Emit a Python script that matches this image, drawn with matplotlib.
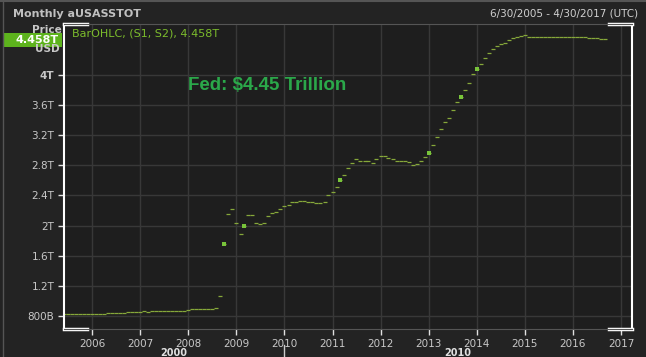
import numpy as np
import pandas as pd
import matplotlib
matplotlib.use("Agg")
import matplotlib.pyplot as plt
import matplotlib.dates as mdates
from matplotlib.patches import Rectangle
from matplotlib.lines import Line2D

# Fed total assets, monthly, trillions USD
start_month = "2005-06-01"
assets = [
    # 2005 Jun-Dec
    0.82, 0.82, 0.82, 0.82, 0.82, 0.83, 0.83,
    # 2006
    0.83, 0.83, 0.83, 0.83, 0.84, 0.84, 0.84, 0.84, 0.84, 0.85, 0.85, 0.85,
    # 2007
    0.85, 0.86, 0.85, 0.86, 0.86, 0.86, 0.86, 0.87, 0.86, 0.86, 0.87, 0.87,
    # 2008
    0.88, 0.89, 0.89, 0.89, 0.89, 0.89, 0.89, 0.90, 1.06, 1.75, 2.16, 2.22,
    # 2009
    2.04, 1.89, 1.99, 2.14, 2.14, 2.04, 2.02, 2.04, 2.13, 2.17, 2.18, 2.22,
    # 2010
    2.26, 2.28, 2.31, 2.32, 2.33, 2.33, 2.32, 2.31, 2.30, 2.30, 2.32, 2.40,
    # 2011
    2.44, 2.51, 2.60, 2.67, 2.76, 2.83, 2.88, 2.86, 2.86, 2.86, 2.83, 2.89,
    # 2012
    2.92, 2.93, 2.90, 2.88, 2.86, 2.86, 2.86, 2.84, 2.81, 2.82, 2.86, 2.91,
    # 2013
    2.97, 3.07, 3.17, 3.28, 3.37, 3.43, 3.54, 3.64, 3.71, 3.80, 3.90, 4.01,
    # 2014
    4.08, 4.14, 4.22, 4.29, 4.34, 4.38, 4.41, 4.43, 4.46, 4.49, 4.51, 4.52,
    # 2015
    4.53, 4.50, 4.50, 4.50, 4.50, 4.50, 4.51, 4.50, 4.50, 4.50, 4.50, 4.50,
    # 2016 Jan-Sep
    4.51, 4.50, 4.50, 4.50, 4.49, 4.49, 4.49, 4.48, 4.48,
]
# months drawn as brighter squares
highlight_months = ["2008-10-01", "2009-03-01", "2011-03-01", "2013-01-01",
                    "2013-09-01", "2014-01-01"]

yticks = [0.8, 1.2, 1.6, 2.0, 2.4, 2.8, 3.2, 3.6, 4.0]
ytick_labels = ["800B", "1.2T", "1.6T", "2T", "2.4T", "2.8T", "3.2T", "3.6T", "4T"]
years = list(range(2006, 2018))
last_value = "4.458T"

dates = pd.date_range(start_month, periods=len(assets), freq="MS")
series = pd.Series(assets, index=dates)
hl = series.loc[pd.to_datetime(highlight_months)]

W, H = 646, 357
fig = plt.figure(figsize=(W / 100, H / 100), dpi=100, facecolor="#232323")
ax = fig.add_axes([64 / W, 1 - 329 / H, (632 - 64) / W, (329 - 24) / H])
ax.set_facecolor("#1e1e1e")

ax.plot(series.index, series.values, ls="none", marker="_", ms=3, mew=0.9,
        color="#86a83a")
ax.plot(hl.index, hl.values, ls="none", marker="s", ms=2.2, mew=0,
        color="#78c43a")

ax.set_xlim(pd.Timestamp("2005-06-01"), pd.Timestamp("2017-03-25"))
ax.set_ylim(0.627, 4.677)

ax.set_yticks(yticks)
ax.set_yticklabels(ytick_labels)
ax.set_xticks([pd.Timestamp(f"{y}-01-01") for y in years])
ax.xaxis.set_major_formatter(mdates.DateFormatter("%Y"))

ax.grid(True, color="#383838", lw=1)
ax.tick_params(colors="#c8c8c8", labelsize=7.5, length=4, width=1,
               direction="out")
ax.tick_params(axis="x", colors="#e0e0e0", labelcolor="#c8c8c8", pad=3)
ax.tick_params(axis="y", colors="#e0e0e0", labelcolor="#c8c8c8", pad=3)
for lbl in ax.get_yticklabels():
    if lbl.get_text() == "4T":
        lbl.set_fontweight("bold")

for side in ["top", "bottom"]:
    ax.spines[side].set_color("#555555")
for side in ["left", "right"]:
    ax.spines[side].set_color("white")
    ax.spines[side].set_linewidth(1.5)

# white corner brackets on the frame
for x0, x1 in [(0, 0.04), (0.96, 1)]:
    for y in [0, 1]:
        ax.add_line(Line2D([x0, x1], [y, y], transform=ax.transAxes,
                           color="white", lw=2.5, clip_on=False))

ax.text(0.218, 0.80, "Fed: $4.45 Trillion", transform=ax.transAxes,
        color="#2ba84a", fontsize=13.5, fontweight="bold",
        family="Liberation Sans", va="center")
ax.text(0.014, 0.97, f"BarOHLC, (S1, S2), {last_value}", transform=ax.transAxes,
        color="#7cbd2c", fontsize=8, va="center")

# header
fig.text(13 / W, 1 - 14 / H, "Monthly aUSASSTOT", color="#c0c0c0",
         fontsize=8, fontweight="bold", va="center")
fig.text(490 / W, 1 - 14 / H, "6/30/2005 - 4/30/2017 (UTC)", color="#d0d0d0",
         fontsize=7.5, va="center")
fig.text(47 / W, 1 - 30 / H, "Price", color="#c8c8c8", fontsize=7.5,
         fontweight="bold", ha="center", va="center")
fig.text(47 / W, 1 - 49 / H, "USD", color="#c8c8c8", fontsize=7.5,
         fontweight="bold", ha="center", va="center")
fig.patches.append(Rectangle((4 / W, 1 - 47 / H), 58 / W, 14 / H,
                             transform=fig.transFigure, facecolor="#5db31d",
                             edgecolor="none"))
fig.text(59 / W, 1 - 40 / H, last_value, color="white", fontsize=8,
         fontweight="bold", ha="right", va="center")

# decade labels under the year axis
fig.text(174 / W, 1 - 348 / H, "2000", color="#e0e0e0", fontsize=7,
         fontweight="bold", ha="center", va="top")
fig.text(458 / W, 1 - 348 / H, "2010", color="#e0e0e0", fontsize=7,
         fontweight="bold", ha="center", va="top")
fig.add_artist(Line2D([284 / W, 284 / W], [0, 1 - 345 / H],
                      transform=fig.transFigure, color="#cccccc", lw=1))

# outer panel border
fig.add_artist(Line2D([3 / W, 3 / W], [0, 1], transform=fig.transFigure,
                      color="#555555", lw=1))
fig.add_artist(Line2D([0, 1], [1 - 1 / H, 1 - 1 / H], transform=fig.transFigure,
                      color="#555555", lw=1.5))

fig.savefig("out.png", dpi=100, facecolor=fig.get_facecolor())
